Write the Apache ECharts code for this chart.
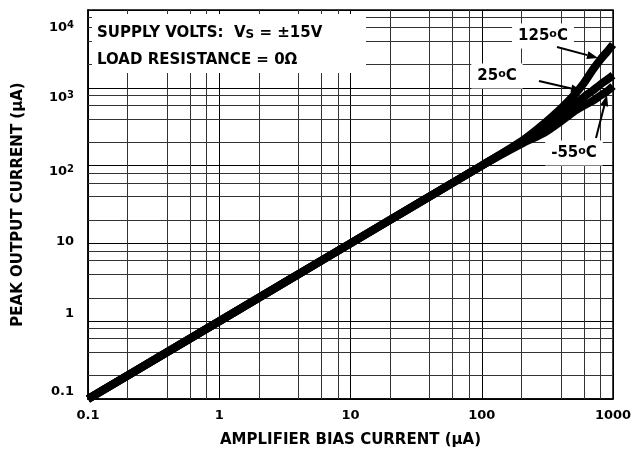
<!DOCTYPE html>
<html>
<head>
<meta charset="utf-8">
<script src="https://cdn.jsdelivr.net/npm/echarts@6/dist/echarts.min.js"></script>
<style>
    html, body { margin: 0; padding: 0; background: #fff; }
    #chart { width: 639px; height: 452px; }
</style>
</head>
<body>
<div id="chart"></div>
<script>
// 放大器偏置电流 (µA)
const biasCurrent = [0.1, 1, 10, 100, 200, 300, 400, 500, 600, 700, 800, 900, 1000]
// 峰值输出电流 (µA)，三个温度
const out125 = [0.1, 1, 10, 100, 205, 350, 540, 790, 1150, 1700, 2300, 2900, 3600]
const out25 = [0.1, 1, 10, 100, 200, 320, 450, 600, 760, 920, 1100, 1270, 1450]
const outM55 = [0.1, 1, 10, 100, 190, 265, 370, 490, 590, 680, 790, 900, 1050]

// 刻度标签
const xTickValues = [0.1, 1, 10, 100, 1000]
const xTickLabels = ['0.1', '1', '10', '100', '1000']
const yTickValues = [0.1, 1, 10, 100, 1000, 10000]
const yTickBase = ['0.1', '1', '10', '10', '10', '10']
const yTickSup = ['', '', '', '2', '3', '4']

// 次网格线 (2, 4, 6, 8)
const xMinor = [0.2, 0.4, 0.6, 0.8, 2, 4, 6, 8, 20, 40, 60, 80, 200, 400, 600, 800]
const yMinor = [0.2, 0.4, 0.6, 0.8, 2, 4, 6, 8, 20, 40, 60, 80, 200, 400, 600, 800,
    2000, 4000, 6000, 8000]

const FONT = 'DejaVu Sans'
// 原图y轴标签相对网格线的上下偏移 (px)
const Y_LABEL_SHIFT = [-7, -8, -2, 6, 10, 18]

function pairs(xs, ys) {
    let out = []
    for (let i = 0; i < xs.length; i++) {
        out.push([xs[i], ys[i]])
    }
    return out
}

function tickIndex(values, v) {
    for (let i = 0; i < values.length; i++) {
        if (Math.abs(Math.log10(v) - Math.log10(values[i])) < 1e-6) return i
    }
    return -1
}

// y轴标签的富文本样式（带上标和偏移）
let yRich = {}
for (let i = 0; i < Y_LABEL_SHIFT.length; i++) {
    let s = Y_LABEL_SHIFT[i]
    yRich['b' + i] = {
        fontFamily: FONT, fontWeight: 'bold', fontSize: 13, color: '#000',
        padding: s > 0 ? [2 * s, 0, 0, 0] : [0, 0, -2 * s, 0]
    }
    yRich['s' + i] = {
        fontFamily: FONT, fontWeight: 'bold', fontSize: 10, color: '#000',
        verticalAlign: 'top', lineHeight: 10,
        padding: [Math.max(2 * s, 0) - 1, 0, 0, 0]
    }
}

// 箭头：线段 + 三角形箭头
function arrow(x1, y1, x2, y2) {
    let dx = x2 - x1, dy = y2 - y1
    let len = Math.sqrt(dx * dx + dy * dy)
    let ux = dx / len, uy = dy / len
    let bx = x2 - ux * 11, by = y2 - uy * 11
    return [
        {
            type: 'line', z: 60,
            shape: {x1: x1, y1: y1, x2: bx, y2: by},
            style: {stroke: '#000', lineWidth: 2}
        },
        {
            type: 'polygon', z: 60,
            shape: {points: [[x2, y2], [bx - uy * 4, by + ux * 4], [bx + uy * 4, by - ux * 4]]},
            style: {fill: '#000'}
        }
    ]
}

function tempLabel(text, x, y) {
    return {
        type: 'text', z: 55, x: x, y: y,
        style: {
            text: text,
            fill: '#000',
            font: 'bold 15px "' + FONT + '"',
            align: 'center',
            verticalAlign: 'middle',
            backgroundColor: '#fff',
            padding: [5, 6, 5, 6],
            rich: {
                deg: {fontSize: 11, fontWeight: 'bold', fontFamily: FONT, verticalAlign: 'top', lineHeight: 10}
            }
        }
    }
}

function curve(data) {
    return {
        type: 'line',
        data: data,
        showSymbol: false,
        smooth: 0.25,
        lineStyle: {color: '#000', width: 8, cap: 'butt'},
        silent: true
    }
}

let minorLines = []
for (let i = 0; i < xMinor.length; i++) minorLines.push({xAxis: xMinor[i]})
for (let i = 0; i < yMinor.length; i++) minorLines.push({yAxis: yMinor[i]})

let graphics = [
    // 左上角说明框
    {
        type: 'rect', z: 50,
        shape: {x: 92, y: 14, width: 274, height: 59},
        style: {fill: '#fff'}
    },
    {
        type: 'text', z: 51, x: 97, y: 33,
        style: {
            text: 'SUPPLY VOLTS:  V{sub|S} = ±15V',
            fill: '#000',
            font: 'bold 15px "' + FONT + '"',
            verticalAlign: 'middle',
            rich: {
                sub: {fontSize: 12, fontWeight: 'bold', fontFamily: FONT, verticalAlign: 'bottom', lineHeight: 12}
            }
        }
    },
    {
        type: 'text', z: 51, x: 97, y: 60,
        style: {
            text: 'LOAD RESISTANCE = 0Ω',
            fill: '#000',
            font: 'bold 15px "' + FONT + '"',
            verticalAlign: 'middle'
        }
    },
    tempLabel('125{deg|o}C', 543, 36),
    tempLabel('25{deg|o}C', 497, 76),
    tempLabel('-55{deg|o}C', 574, 153)
]
graphics = graphics.concat(arrow(557, 47, 598, 58))
graphics = graphics.concat(arrow(539, 81, 582, 91))
graphics = graphics.concat(arrow(596, 138, 607, 95))

let myChart = echarts.init(document.getElementById('chart'))
myChart.setOption({
    animation: false,
    backgroundColor: '#fff',
    grid: {
        left: 88, right: 26, top: 10, bottom: 53,
        containLabel: false,
        outerBoundsMode: 'none',
        show: true,
        borderColor: '#000',
        borderWidth: 1.5
    },
    xAxis: {
        type: 'log',
        logBase: 10,
        min: 0.1,
        max: 1000,
        name: 'AMPLIFIER BIAS CURRENT (µA)',
        nameLocation: 'middle',
        nameGap: 34,
        nameTextStyle: {fontFamily: FONT, fontWeight: 'bold', fontSize: 15, color: '#000'},
        axisLine: {lineStyle: {color: '#000', width: 1.5}},
        axisTick: {show: false},
        axisLabel: {
            formatter: function (v) {
                let i = tickIndex(xTickValues, v)
                return i < 0 ? '' : xTickLabels[i]
            },
            fontFamily: FONT, fontWeight: 'bold', fontSize: 13, color: '#000',
            margin: 10
        },
        splitLine: {show: true, lineStyle: {color: '#000', width: 1}}
    },
    yAxis: {
        type: 'log',
        logBase: 10,
        min: 0.1,
        max: 10000,
        name: 'PEAK OUTPUT CURRENT (µA)',
        nameLocation: 'middle',
        nameGap: 62,
        nameRotate: 90,
        nameTextStyle: {fontFamily: FONT, fontWeight: 'bold', fontSize: 15, color: '#000'},
        axisLine: {lineStyle: {color: '#000', width: 1.5}},
        axisTick: {show: false},
        axisLabel: {
            formatter: function (v) {
                let i = tickIndex(yTickValues, v)
                if (i < 0) return ''
                let t = '{b' + i + '|' + yTickBase[i] + '}'
                if (yTickSup[i]) t += '{s' + i + '|' + yTickSup[i] + '}'
                return t
            },
            fontFamily: FONT, fontWeight: 'bold', fontSize: 13, color: '#000',
            margin: 14,
            rich: yRich
        },
        splitLine: {show: true, lineStyle: {color: '#000', width: 1}}
    },
    series: [
        Object.assign(curve(pairs(biasCurrent, out125)), {
            markLine: {
                silent: true,
                symbol: 'none',
                animation: false,
                label: {show: false},
                lineStyle: {color: '#333', width: 1, type: 'solid'},
                data: minorLines,
                z: 1
            }
        }),
        curve(pairs(biasCurrent, out25)),
        curve(pairs(biasCurrent, outM55))
    ],
    graphic: graphics
})
</script>
</body>
</html>
